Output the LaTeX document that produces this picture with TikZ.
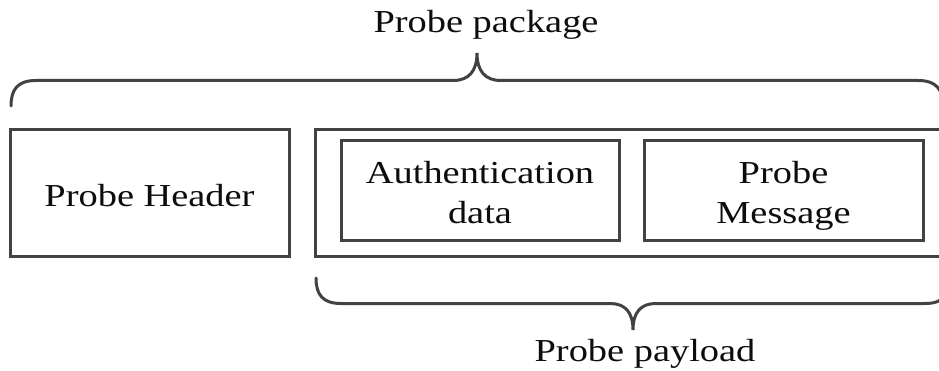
\documentclass[tikz,border=0pt]{standalone}
\usepackage{fontspec}
\setmainfont[FakeStretch=1.2]{Liberation Serif}
\newcommand\firstst{\rule{0pt}{32pt}}
\newcommand\lastst{\rule[-7.4pt]{0pt}{7.4pt}}
\newcommand\onest{\rule[-5.6pt]{0pt}{37.6pt}}
\begin{document}
\begin{tikzpicture}[x=1pt,y=-1pt,
  line col/.style={draw=black!74},
  box/.style={line col, line width=3pt, rectangle, inner sep=0pt, align=center,
    font=\fontsize{32}{40}\selectfont, text=black!95},
  lbl/.style={font=\fontsize{32}{40}\selectfont, text=black!95, inner sep=0pt},
  brace/.style={line col, line width=3pt, line cap=round}]
\useasboundingbox (0,0) rectangle (939,371);
\clip (0,0) rectangle (939,371);
\fill[white] (0,0) rectangle (939,371);
% boxes
\node[box, minimum width=279pt, minimum height=127pt] (hdr) at (149.5,193.5) {\onest Probe Header};
\node[box, minimum width=635pt, minimum height=126.5pt] (payload) at (632.5,193.25) {};
\node[box, minimum width=278pt, minimum height=100.5pt] (auth) at (480,190.75) {\firstst Authentication\\data\lastst};
\node[box, minimum width=279pt, minimum height=100pt] (msg) at (783.5,191) {\firstst Probe\\Message\lastst};
% labels
\node[lbl, anchor=base] (pkg) at (486,33) {Probe package};
\node[lbl, anchor=base] (pld) at (645,361.7) {Probe payload};
% top brace
\coordinate (tl) at (11,106);
\coordinate (tt) at (477,53);
\coordinate (tr) at (943,106);
\draw[brace] (tl) .. controls (11,89) and (18,80.5) .. (36,80.5) -- (453,80.5)
  .. controls (469,80.5) and (477,71) .. (tt)
  .. controls (477,71) and (485,80.5) .. (501,80.5) -- (918,80.5)
  .. controls (936,80.5) and (943,89) .. (tr);
% bottom brace
\coordinate (bl) at (316,278);
\coordinate (bt) at (633,330);
\coordinate (br) at (950,278);
\draw[brace] (bl) .. controls (316,295) and (323,303.5) .. (341,303.5) -- (610,303.5)
  .. controls (625,303.5) and (633,312) .. (bt)
  .. controls (633,312) and (641,303.5) .. (656,303.5) -- (925,303.5)
  .. controls (943,303.5) and (950,295) .. (br);
\end{tikzpicture}
\end{document}
